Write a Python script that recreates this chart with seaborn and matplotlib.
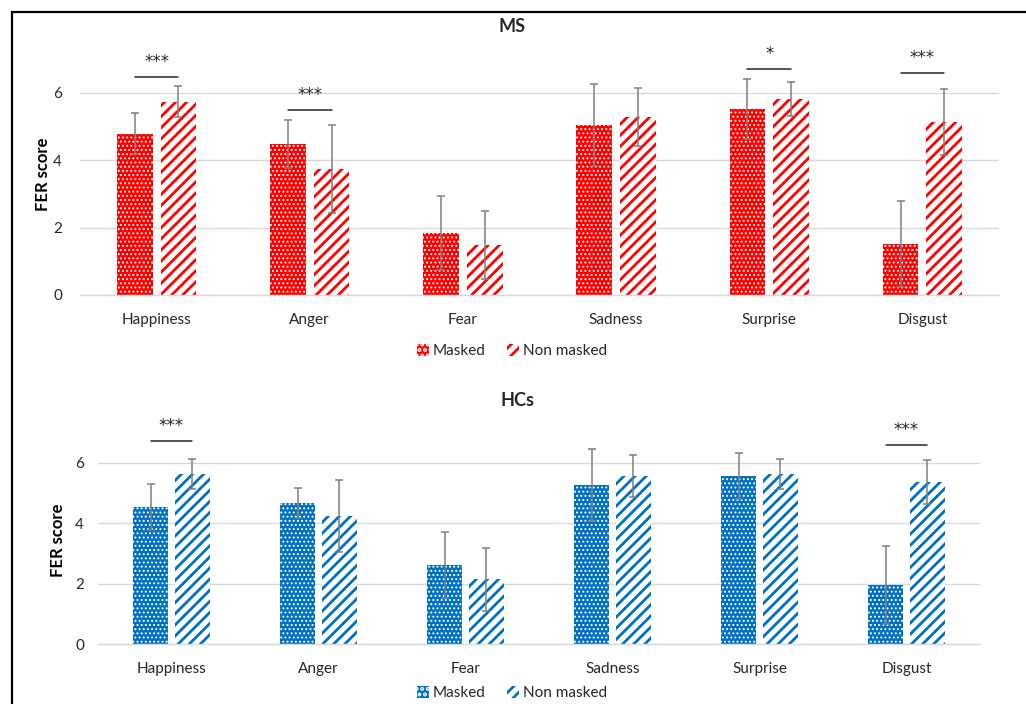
import pandas as pd
import matplotlib
matplotlib.use('Agg')
import matplotlib.pyplot as plt
import seaborn as sns
from matplotlib.patches import Patch, Rectangle

emotions = ['Happiness', 'Anger', 'Fear', 'Sadness', 'Surprise', 'Disgust']
conditions = ['Masked', 'Non masked']

# MS group
ms_masked = [4.78, 4.48, 1.84, 5.04, 5.52, 1.51]
ms_masked_sd = [0.61, 0.72, 1.10, 1.22, 0.89, 1.27]
ms_nonmasked = [5.73, 3.74, 1.48, 5.28, 5.81, 5.13]
ms_nonmasked_sd = [0.46, 1.30, 1.01, 0.86, 0.51, 0.98]
ms_sig_cats = ['Happiness', 'Anger', 'Surprise', 'Disgust']
ms_sig_labels = ['***', '***', '*', '***']
ms_sig_y = [6.47, 5.49, 6.70, 6.59]

# HCs group
hc_masked = [4.54, 4.67, 2.62, 5.27, 5.56, 1.95]
hc_masked_sd = [0.77, 0.50, 1.08, 1.20, 0.76, 1.30]
hc_nonmasked = [5.63, 4.24, 2.15, 5.57, 5.63, 5.36]
hc_nonmasked_sd = [0.49, 1.19, 1.04, 0.69, 0.50, 0.73]
hc_sig_cats = ['Happiness', 'Disgust']
hc_sig_labels = ['***', '***']
hc_sig_y = [6.72, 6.59]

RED = '#FF0000'
BLUE = '#0070C0'
DOTS = '....'
STRIPES = '///'

sns.set_style('white')
plt.rcParams['font.family'] = ['Lato', 'DejaVu Sans']
plt.rcParams['hatch.linewidth'] = 2.0


def style_patch(p, face, edge, hatch, hlw):
    p.set_facecolor(face)
    p.set_edgecolor(edge)
    p.set_hatch(hatch)
    p.set_linewidth(0)
    if hasattr(p, 'set_hatch_linewidth'):
        p.set_hatch_linewidth(hlw)


def draw_panel(ax, masked, masked_sd, nonmasked, nonmasked_sd, color,
               sig_cats, sig_labels, sig_y, pad_y):
    df = pd.DataFrame({
        'Emotion': emotions * 2,
        'Condition': ['Masked'] * len(emotions) + ['Non masked'] * len(emotions),
        'FER score': masked + nonmasked,
    })
    sns.barplot(data=df, x='Emotion', y='FER score', hue='Condition',
                order=emotions, hue_order=conditions,
                palette={'Masked': color, 'Non masked': 'white'},
                width=0.57, gap=0.18, errorbar=None, legend=False, ax=ax)
    bars = list(ax.containers)
    for p in bars[0]:
        style_patch(p, color, 'white', DOTS, 0.9)
    for p in bars[1]:
        style_patch(p, 'white', color, STRIPES, 2.0)

    # error bars
    for cont, vals, sds in zip(bars, [masked, nonmasked], [masked_sd, nonmasked_sd]):
        xs = [p.get_x() + p.get_width() / 2 for p in cont]
        ax.errorbar(xs, vals, yerr=sds, fmt='none', ecolor='#7f7f7f',
                    elinewidth=1.1, capsize=3, capthick=1.1, zorder=5)

    # significance markers
    for cat, lab, y in zip(sig_cats, sig_labels, sig_y):
        i = emotions.index(cat)
        x0 = bars[0][i].get_x() + bars[0][i].get_width() / 2
        x1 = bars[1][i].get_x() + bars[1][i].get_width() / 2
        ax.plot([x0, x1], [y, y], color='#262626', lw=1.1, clip_on=False)
        ax.annotate(lab, xy=((x0 + x1) / 2, y), xytext=(0, 11),
                    textcoords='offset points', ha='center', va='center',
                    fontsize=12, family='DejaVu Sans', color='#262626',
                    annotation_clip=False)

    ax.set_ylim(0, 7.4)
    ax.set_yticks([0, 2, 4, 6])
    ax.set_xlim(-0.5, len(emotions) - 0.5)
    ax.yaxis.grid(True, color='#d9d9d9', lw=1)
    ax.set_axisbelow(True)
    for s in ['left', 'top', 'right']:
        ax.spines[s].set_visible(False)
    ax.spines['bottom'].set_color('#d9d9d9')
    ax.spines['bottom'].set_linewidth(1)
    ax.tick_params(axis='both', length=0, labelsize=11, labelcolor='#262626')
    ax.tick_params(axis='y', pad=pad_y)
    ax.tick_params(axis='x', pad=13)
    ax.set_xlabel('')
    ax.set_ylabel('FER score', fontsize=12, fontweight='bold', color='#000000')


fig = plt.figure(figsize=(10.26, 7.04), dpi=100)
ax1 = fig.add_axes([80 / 1026, 1 - 295 / 704, 919 / 1026, 249.4 / 704])
ax2 = fig.add_axes([98 / 1026, 1 - 644 / 704, 882 / 1026, 223.3 / 704])

draw_panel(ax1, ms_masked, ms_masked_sd, ms_nonmasked, ms_nonmasked_sd, RED,
           ms_sig_cats, ms_sig_labels, ms_sig_y, 13)
draw_panel(ax2, hc_masked, hc_masked_sd, hc_nonmasked, hc_nonmasked_sd, BLUE,
           hc_sig_cats, hc_sig_labels, hc_sig_y, 10)
ax1.yaxis.set_label_coords(-0.032, 0.485)
ax2.yaxis.set_label_coords(-0.036, 0.465)

fig.text(512 / 1026, 1 - 27 / 704, 'MS', ha='center', va='center',
         fontsize=13, fontweight='bold')
fig.text(517 / 1026, 1 - 400 / 704, 'HCs', ha='center', va='center',
         fontsize=13, fontweight='bold')

for color, y in [(RED, 351), (BLUE, 693)]:
    handles = [
        Patch(facecolor=color, edgecolor='white', hatch='...', lw=0, label='Masked'),
        Patch(facecolor='white', edgecolor=color, hatch='///', lw=0, label='Non masked'),
    ]
    fig.legend(handles=handles, loc='center', bbox_to_anchor=(512 / 1026, 1 - y / 704),
               ncol=2, frameon=False, fontsize=11, handlelength=0.8,
               handleheight=0.8, handletextpad=0.25, columnspacing=1.4)

# outer frame (cropped at right and bottom)
fig.add_artist(Rectangle((12 / 1026, -0.2), 1.2, 1 - 12 / 704 + 0.2,
                         transform=fig.transFigure, fill=False,
                         edgecolor='black', lw=1.6))

fig.savefig('out.png', dpi=100)
